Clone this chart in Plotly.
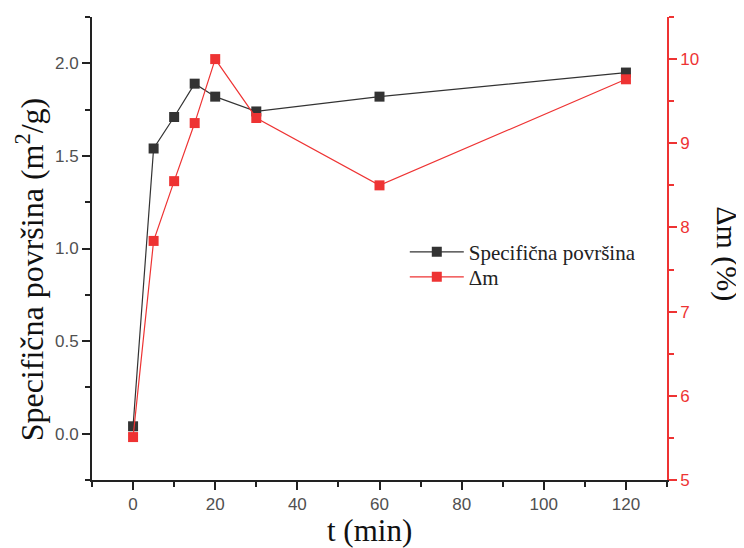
import plotly.graph_objects as go

t = [0, 5, 10, 15, 20, 30, 60, 120]
spec_surface = [0.04, 1.54, 1.71, 1.89, 1.82, 1.74, 1.82, 1.95]
delta_m = [5.51, 7.84, 8.55, 9.24, 10.0, 9.30, 8.50, 9.76]

BLACK = "#333333"
RED = "#ee3333"
AX = "#222222"
TICKFONT = dict(family="Liberation Sans, Arial", size=17, color="#505050")
SERIF = "Liberation Serif, Times New Roman"
LEGFONT = dict(family=SERIF, size=21, color="#222222")

fig = go.Figure()
fig.add_trace(go.Scatter(
    x=t, y=spec_surface, name="Specifična površina", mode="lines+markers",
    line=dict(color=BLACK, width=1.2),
    marker=dict(symbol="square", size=10, color=BLACK),
    xaxis="x", yaxis="y", legend="legend"))
fig.add_trace(go.Scatter(
    x=t, y=delta_m, name="Δm", mode="lines+markers",
    line=dict(color=RED, width=1.2),
    marker=dict(symbol="square", size=10, color=RED),
    xaxis="x", yaxis="y2", legend="legend2"))

fig.update_layout(
    width=744, height=548,
    margin=dict(l=84, r=85, t=9, b=76),
    paper_bgcolor="white", plot_bgcolor="white",
    showlegend=True,
    legend=dict(x=0.544, y=0.492, xanchor="left", yanchor="middle",
                bgcolor="rgba(0,0,0,0)", font=LEGFONT, itemwidth=54),
    legend2=dict(x=0.544, y=0.438, xanchor="left", yanchor="middle",
                 bgcolor="rgba(0,0,0,0)", font=LEGFONT, itemwidth=54),
    xaxis=dict(range=[-10, 130], dtick=20, tick0=0, showgrid=False, zeroline=False,
               showline=True, linecolor=AX, linewidth=1.8,
               ticks="outside", ticklen=8, tickwidth=1.5, tickcolor=AX,
               minor=dict(ticks="outside", dtick=10, ticklen=5, tickwidth=1.5, tickcolor=AX),
               tickfont=TICKFONT),
    xaxis2=dict(range=[-10, 130], dtick=20, tick0=0, overlaying="x", side="top", anchor="y",
                showgrid=False, zeroline=False, showticklabels=False,
                showline=True, linecolor=AX, linewidth=1.8,
                ticks="inside", ticklen=8, tickwidth=1.5, tickcolor=AX,
                minor=dict(ticks="inside", dtick=10, ticklen=5, tickwidth=1.5, tickcolor=AX)),
    yaxis=dict(range=[-0.25, 2.25], dtick=0.5, tick0=0, tickformat=".1f",
               showgrid=False, zeroline=False,
               showline=True, linecolor=AX, linewidth=1.8,
               ticks="outside", ticklen=8, tickwidth=1.5, tickcolor=AX,
               minor=dict(ticks="outside", dtick=0.25, ticklen=5, tickwidth=1.5, tickcolor=AX),
               tickfont=TICKFONT),
    yaxis2=dict(range=[5, 10.5], dtick=1, tick0=5, overlaying="y", side="right", anchor="x",
                showgrid=False, zeroline=False,
                showline=True, linecolor=RED, linewidth=1.8,
                ticks="outside", ticklen=8, tickwidth=1.5, tickcolor=RED,
                minor=dict(ticks="outside", dtick=0.5, ticklen=5, tickwidth=1.5, tickcolor=RED),
                tickfont=dict(family="Liberation Sans, Arial", size=17, color=RED)),
    annotations=[
        dict(text="t (min)", xref="paper", yref="paper", x=0.482, y=0,
             xanchor="center", yanchor="middle", yshift=-50, showarrow=False,
             font=dict(family=SERIF, size=31, color="#111111")),
        dict(text="Specifična površina (m<sup>2</sup>/g)", textangle=-90,
             xref="paper", yref="paper", x=0, y=0.455, xanchor="center", yanchor="middle",
             xshift=-62, showarrow=False,
             font=dict(family=SERIF, size=32, color="#111111")),
        dict(text="Δm (%)", textangle=90, xref="paper", yref="paper",
             x=1.0, y=0.49, xanchor="center", yanchor="middle", xshift=60, showarrow=False,
             font=dict(family=SERIF, size=30, color="#111111")),
    ],
)

fig.write_html("out.html")
